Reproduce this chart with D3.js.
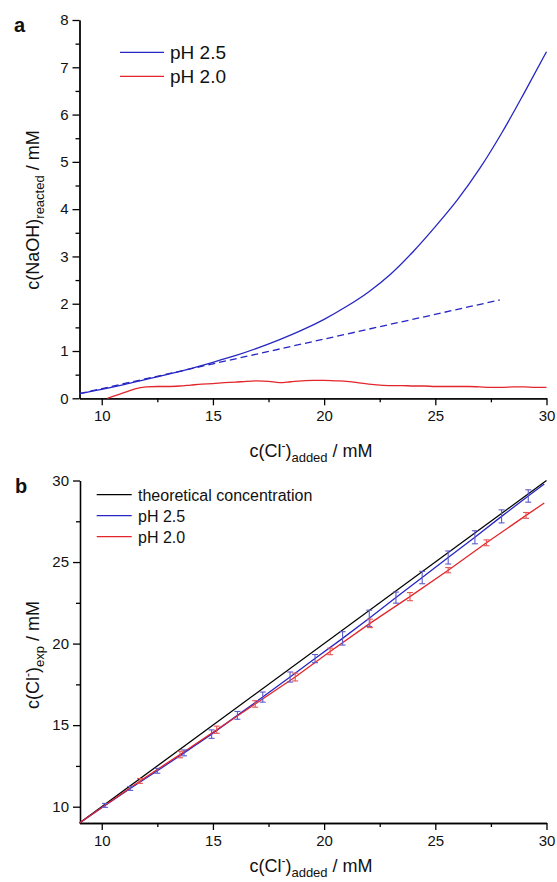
<!DOCTYPE html>
<html>
<head>
<meta charset="utf-8">
<script src="https://d3js.org/d3.v7.min.js"></script>
<style>
  body { margin: 0; background: #fff; }
  svg text { font-family: "Liberation Sans", Arial, sans-serif; fill: #111; }
  .axis path, .axis line { stroke: #000; stroke-width: 1.3; }
  .axis text { font-size: 15px; fill: #111; font-family: "Liberation Sans", Arial, sans-serif; }
</style>
</head>
<body>
<script>
// ---- panel a data : c(NaOH) reacted vs c(Cl-) added
var aBlueX = [9, 10, 11, 12, 13, 14, 15, 16, 17, 18, 19, 20, 21, 22, 23, 24, 25, 26, 27, 28, 29, 30];
var aBlueY = [0.10, 0.19, 0.29, 0.40, 0.51, 0.63, 0.76, 0.90, 1.06, 1.24, 1.44, 1.67, 1.94, 2.25, 2.63, 3.10, 3.63, 4.20, 4.86, 5.62, 6.46, 7.33];
var aDashX = [9, 27.9];
var aDashY = [0.10, 2.08];
var aRedX = [10.25, 10.5, 11, 11.5, 12, 12.5, 13, 13.5, 14, 14.5, 15, 15.5, 16, 16.5, 17, 17.5, 18, 18.5, 19, 19.5, 20,
             20.5, 21, 21.5, 22, 22.5, 23, 23.5, 24, 24.5, 25, 25.5, 26, 26.5, 27, 27.5, 28, 28.5, 29, 29.5, 30];
var aRedY = [0, 0.04, 0.12, 0.20, 0.24, 0.25, 0.25, 0.26, 0.28, 0.30, 0.31, 0.33, 0.34, 0.36, 0.37, 0.36, 0.33, 0.35, 0.37, 0.38, 0.38,
             0.37, 0.36, 0.33, 0.30, 0.28, 0.27, 0.27, 0.26, 0.26, 0.25, 0.25, 0.25, 0.25, 0.24, 0.23, 0.23, 0.24, 0.24, 0.23, 0.23];

// ---- panel b data : c(Cl-) exp vs c(Cl-) added
var bTheoX = [9, 30];
var bTheoY = [9, 30];
var bBlueX = [10.15, 11.28, 12.5, 13.7, 14.94, 16.1, 17.24, 18.47, 19.59, 20.83, 22.03, 23.23, 24.41, 25.58, 26.78, 27.98, 29.18];
var bBlueY = [10.08, 11.12, 12.2, 13.3, 14.45, 15.6, 16.72, 17.95, 19.08, 20.32, 21.55, 22.82, 24.05, 25.28, 26.52, 27.8, 29.05];
var bBlueErr = [0.12, 0.12, 0.15, 0.18, 0.26, 0.24, 0.31, 0.31, 0.25, 0.41, 0.5, 0.34, 0.38, 0.4, 0.4, 0.4, 0.38];
var bRedX = [11.72, 13.52, 15.17, 16.9, 18.7, 20.27, 22.06, 23.86, 25.58, 27.3, 29.08];
var bRedY = [11.58, 13.2, 14.72, 16.3, 17.95, 19.52, 21.24, 22.88, 24.5, 26.18, 27.86];
var bRedErr = [0.15, 0.2, 0.22, 0.2, 0.24, 0.2, 0.26, 0.25, 0.16, 0.18, 0.18];
var bBlueEnd = [29.9, 29.78];
var bRedEnd = [29.9, 28.62];

var xMajor = [10, 15, 20, 25, 30];
var xMinor = [12.5, 17.5, 22.5, 27.5];
var aYMajor = [0, 1, 2, 3, 4, 5, 6, 7, 8];
var aYMinor = [0.5, 1.5, 2.5, 3.5, 4.5, 5.5, 6.5, 7.5];
var bYMajor = [10, 15, 20, 25, 30];
var bYMinor = [12.5, 17.5, 22.5, 27.5];

var blue = "#2626c4", red = "#e3262b";
var blueErr = "#5c5cc9", redErr = "#e65454";

var svg = d3.select("body").append("svg")
  .attr("width", 557).attr("height", 882);

var x = d3.scaleLinear().domain([9, 30]).range([79.5, 546.5]);
var yA = d3.scaleLinear().domain([0, 8]).range([398.3, 20]);
var yB = d3.scaleLinear().domain([9, 30]).range([823, 480.5]);

function drawAxes(y, yMajor, yMinor, x0, y0) {
  svg.append("g").attr("class", "axis")
    .attr("transform", "translate(0," + y0 + ")")
    .call(d3.axisBottom(x).tickValues(xMinor).tickSize(4).tickSizeOuter(0).tickFormat(""));
  svg.append("g").attr("class", "axis")
    .attr("transform", "translate(0," + y0 + ")")
    .call(d3.axisBottom(x).tickValues(xMajor).tickSize(7).tickSizeOuter(0).tickPadding(5));
  svg.append("g").attr("class", "axis")
    .attr("transform", "translate(" + x0 + ",0)")
    .call(d3.axisLeft(y).tickValues(yMinor).tickSize(4).tickSizeOuter(0).tickFormat(""));
  svg.append("g").attr("class", "axis")
    .attr("transform", "translate(" + x0 + ",0)")
    .call(d3.axisLeft(y).tickValues(yMajor).tickSize(7).tickSizeOuter(0).tickPadding(4));
}

// line helper
function path(xs, ys, y, curve) {
  return d3.line().x(function(d) { return x(d[0]); }).y(function(d) { return y(d[1]); })
    .curve(curve || d3.curveLinear)(d3.zip(xs, ys));
}

// ===== panel a =====
drawAxes(yA, aYMajor, aYMinor, 79.5, 398.3);

svg.append("path").attr("d", path(aDashX, aDashY, yA))
  .attr("fill", "none").attr("stroke", blue).attr("stroke-width", 1.3)
  .attr("stroke-dasharray", "7,4");
svg.append("path").attr("d", path(aBlueX, aBlueY, yA, d3.curveMonotoneX))
  .attr("fill", "none").attr("stroke", blue).attr("stroke-width", 1.3);
svg.append("path").attr("d", path(aRedX, aRedY, yA, d3.curveMonotoneX))
  .attr("fill", "none").attr("stroke", red).attr("stroke-width", 1.3);

// legend a
[["pH 2.5", blue], ["pH 2.0", red]].forEach(function(d, i) {
  var ly = 52.3 + i * 24;
  svg.append("line").attr("x1", 120).attr("x2", 164).attr("y1", ly).attr("y2", ly)
    .attr("stroke", d[1]).attr("stroke-width", 1.3);
  svg.append("text").attr("x", 170).attr("y", ly + 7).style("font-size", "19px").text(d[0]);
});

svg.append("text").attr("x", 14).attr("y", 32).style("font-size", "20px")
  .style("font-weight", "bold").text("a");

// axis titles a
var ta = svg.append("text").attr("x", 311).attr("y", 457)
  .attr("text-anchor", "middle").style("font-size", "18px");
ta.append("tspan").text("c(Cl");
ta.append("tspan").attr("dy", -7).style("font-size", "12px").text("-");
ta.append("tspan").attr("dy", 7).text(")");
ta.append("tspan").attr("dy", 5).style("font-size", "13px").text("added");
ta.append("tspan").attr("dy", -5).text(" / mM");

var tya = svg.append("text").attr("transform", "translate(39,210) rotate(-90)")
  .attr("text-anchor", "middle").style("font-size", "18px");
tya.append("tspan").text("c(NaOH)");
tya.append("tspan").attr("dy", 5).style("font-size", "13px").text("reacted");
tya.append("tspan").attr("dy", -5).text(" / mM");

// ===== panel b =====
drawAxes(yB, bYMajor, bYMinor, 80, 823);

svg.append("path").attr("d", path(bTheoX, bTheoY, yB))
  .attr("fill", "none").attr("stroke", "#000").attr("stroke-width", 1.3);
svg.append("path").attr("d", path([9].concat(bBlueX, [bBlueEnd[0]]), [9].concat(bBlueY, [bBlueEnd[1]]), yB))
  .attr("fill", "none").attr("stroke", blue).attr("stroke-width", 1.3);
svg.append("path").attr("d", path([9].concat(bRedX, [bRedEnd[0]]), [9].concat(bRedY, [bRedEnd[1]]), yB))
  .attr("fill", "none").attr("stroke", red).attr("stroke-width", 1.3);

function errorBars(xs, ys, es, color) {
  var g = svg.append("g").attr("stroke", color).attr("stroke-width", 1.1).attr("fill", "none");
  var cap = 3;
  xs.forEach(function(xv, i) {
    var cx = x(xv), top = yB(ys[i] + es[i]), bot = yB(ys[i] - es[i]);
    g.append("line").attr("x1", cx).attr("x2", cx).attr("y1", top).attr("y2", bot);
    g.append("line").attr("x1", cx - cap).attr("x2", cx + cap).attr("y1", top).attr("y2", top);
    g.append("line").attr("x1", cx - cap).attr("x2", cx + cap).attr("y1", bot).attr("y2", bot);
  });
}
errorBars(bBlueX, bBlueY, bBlueErr, blueErr);
errorBars(bRedX, bRedY, bRedErr, redErr);

// legend b
[["theoretical concentration", "#000"], ["pH 2.5", blue], ["pH 2.0", red]].forEach(function(d, i) {
  var ly = 494.7 + i * 21;
  svg.append("line").attr("x1", 96.7).attr("x2", 131.7).attr("y1", ly).attr("y2", ly)
    .attr("stroke", d[1]).attr("stroke-width", 1.2);
  svg.append("text").attr("x", 138).attr("y", ly + 6).style("font-size", "16px").text(d[0]);
});

svg.append("text").attr("x", 15).attr("y", 493).style("font-size", "20px")
  .style("font-weight", "bold").text("b");

var tb = svg.append("text").attr("x", 311).attr("y", 872)
  .attr("text-anchor", "middle").style("font-size", "18px");
tb.append("tspan").text("c(Cl");
tb.append("tspan").attr("dy", -7).style("font-size", "12px").text("-");
tb.append("tspan").attr("dy", 7).text(")");
tb.append("tspan").attr("dy", 5).style("font-size", "13px").text("added");
tb.append("tspan").attr("dy", -5).text(" / mM");

var tyb = svg.append("text").attr("transform", "translate(39,655) rotate(-90)")
  .attr("text-anchor", "middle").style("font-size", "18px");
tyb.append("tspan").text("c(Cl");
tyb.append("tspan").attr("dy", -7).style("font-size", "12px").text("-");
tyb.append("tspan").attr("dy", 7).text(")");
tyb.append("tspan").attr("dy", 5).style("font-size", "13px").text("exp");
tyb.append("tspan").attr("dy", -5).text(" / mM");
</script>
</body>
</html>
